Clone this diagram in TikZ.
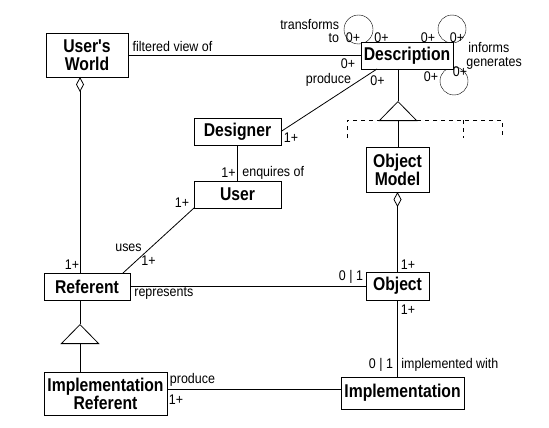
\documentclass[tikz,border=0pt]{standalone}
\usepackage{fontspec}
\newfontfamily\classfont[FakeStretch=0.85]{Liberation Sans}
\newfontfamily\lblfont[FakeStretch=0.89]{Liberation Sans}
\usetikzlibrary{arrows.meta,backgrounds}
\begin{document}
\begin{tikzpicture}[x=1pt, y=-1pt, line width=0.8pt,
    main/.style = {draw, fill=white, inner sep=0pt, outer sep=0pt, align=center, font=\classfont\bfseries\fontsize{18.5}{18}\selectfont},
    lbl/.style = {inner sep=0pt, font=\lblfont\fontsize{14}{13}\selectfont},
    agg/.style = {{Diamond[fill=white,length=15pt,width=8pt]}-},
    gen/.style = {-{Triangle[fill=white,length=20pt,width=39pt]}},
    dashline/.style = {dash pattern=on 4pt off 4pt}]
            \useasboundingbox (0,0) rectangle (549,428);
            \node[main, minimum width=82pt, minimum height=44pt] (1) at (87,55) {User's\\World};
            \node[main, minimum width=92pt, minimum height=27pt] (2) at (407,55.5) {Description};
            \node[main, minimum width=87pt, minimum height=27pt] (3) at (237.5,131.5) {Designer};
            \node[main, minimum width=87pt, minimum height=27pt] (4) [below of=3, node distance=63pt] {User};
            \node[main, minimum width=86pt, minimum height=27pt] (5) at (87,286.5) {Referent};
            \node[main, minimum width=123pt, minimum height=43pt] (6) at (105.5,393.5) {Implementation\\Referent};
            \node[main, minimum width=63pt, minimum height=45pt] (7) at (397.5,169.5) {Object\\Model};
            \node[main, minimum width=63pt, minimum height=28pt] (8) [below of=7, node distance=116.5pt] {Object};
            \node[main, minimum width=123pt, minimum height=32pt] (9) at (402.5,393) {Implementation};
            \coordinate (t1) at (80,324);
            \coordinate (t2) at (398,101);
            \begin{scope}[on background layer]
                \draw ([shift={(-2.5pt,12.5pt)}]2.north west) circle[radius=14.5pt];
                \draw ([shift={(-1pt,13pt)}]2.north east) circle[radius=14pt];
                \draw ([shift={(1pt,-12pt)}]2.south east) circle[radius=14pt];
                \draw[dashline] (347,138) -- (347,120) -- (502,120) -- (502,138);
                \draw[dashline] (463,120) -- (463,138);
            \end{scope}
            \draw[] (1.east) to (1.east -| 2.west);
            \draw[] (3.east) to ([xshift=16pt]2.south west);
            \draw[] (3.south) to (4.north);
            \draw[] (4.south west) to ([xshift=-7pt]5.north east);
            \draw[] (5.east) to (5.east -| 8.west);
            \draw[] ([yshift=4.5pt]6.east) to ([yshift=4.5pt]6.east -| 9.west);
            \draw[agg] ([xshift=-7pt]1.south) to ([xshift=-7pt]5.north);
            \draw[] (t1 |- 5.south) to (t1);
            \draw[gen] (t1 |- 6.north) to (t1);
            \draw[] (2.south -| t2) to (t2);
            \draw[gen] (t2 |- 7.north) to (t2);
            \draw[agg] (7.south) to (8.north);
            \draw[] (8.south) to (8.south |- 9.north);
            \node[lbl] (a1) at (172.5,46) {filtered view of};
            \node[lbl, align=right, anchor=east] (a2) at (339.5,31) {transforms\\to};
            \node[lbl] (a3) at (353,38) {0+};
            \node[lbl] (a4) at (381.5,38) {0+};
            \node[lbl] (a5) at (428,38) {0+};
            \node[lbl] (a6) at (457,38) {0+};
            \node[lbl, anchor=west] (a7) at (468,47.5) {informs};
            \node[lbl, anchor=west] (a8) at (466,63) {generates};
            \node[lbl] (a9) at (431,76.5) {0+};
            \node[lbl] (a10) at (460,72) {0+};
            \node[lbl] (a11) at (348,64) {0+};
            \node[lbl] (a12) at (328.5,80) {produce};
            \node[lbl] (a13) at (377.5,81) {0+};
            \node[lbl] (a14) at (291,137.5) {1+};
            \node[lbl] (a15) at (228.5,172.5) {1+};
            \node[lbl, anchor=west] (a16) at (242,172.5) {enquires of};
            \node[lbl] (a17) at (182,202.5) {1+};
            \node[lbl] (a18) at (128.5,248) {uses};
            \node[lbl] (a19) at (148.5,261) {1+};
            \node[lbl] (a20) at (72,265) {1+};
            \node[lbl, anchor=west] (a21) at (134,293.5) {represents};
            \node[lbl] (a22) at (351,276.5) {0 | 1};
            \node[lbl] (a23) at (408,265) {1+};
            \node[lbl] (a24) at (408,309.5) {1+};
            \node[lbl] (a25) at (381,364.5) {0 | 1};
            \node[lbl, anchor=west] (a26) at (401,364.5) {implemented with};
            \node[lbl] (a27) at (192.5,379.5) {produce};
            \node[lbl] (a28) at (176,400) {1+};
        \end{tikzpicture}
\end{document}
